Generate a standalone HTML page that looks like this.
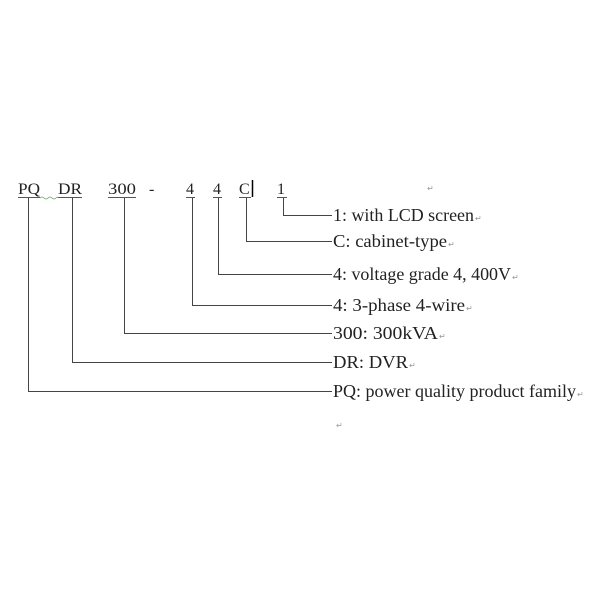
<!DOCTYPE html>
<html><head><style>
body{margin:0;width:600px;height:600px;background:#fff;overflow:hidden}
svg text{font-family:"Liberation Serif",serif;fill:#222}
</style></head><body>
<svg width="600" height="600" viewBox="0 0 600 600">
<g font-size="16">
<text x="18" y="194" textLength="22" lengthAdjust="spacingAndGlyphs">PQ</text>
<text x="58" y="194" textLength="24" lengthAdjust="spacingAndGlyphs">DR</text>
<text x="108" y="194" textLength="28" lengthAdjust="spacingAndGlyphs">300</text>
<text x="149" y="194">-</text>
<text x="186" y="194">4</text>
<text x="213" y="194">4</text>
<text x="239" y="194">C</text>
<text x="277" y="194">1</text>
</g>
<g stroke="#555" stroke-width="1">
<line x1="18" y1="197.5" x2="40" y2="197.5"/>
<line x1="58" y1="197.5" x2="82" y2="197.5"/>
<line x1="108" y1="197.5" x2="136" y2="197.5"/>
<line x1="186" y1="197.5" x2="195" y2="197.5"/>
<line x1="213" y1="197.5" x2="222" y2="197.5"/>
<line x1="239" y1="197.5" x2="251" y2="197.5"/>
<line x1="277" y1="197.5" x2="287" y2="197.5"/>
</g>
<path d="M40 198 q2 -2 4 0 t4 0 t4 0 t4 0 t2 0" stroke="#6a6" fill="none" stroke-width="0.8"/>
<line x1="252.5" y1="180" x2="252.5" y2="197" stroke="#000" stroke-width="1.5"/>
<g stroke="#444" stroke-width="1" fill="none">
<path d="M283.5 198 V215.5 H332"/>
<path d="M246.5 198 V241.5 H332"/>
<path d="M218.5 198 V274.5 H332"/>
<path d="M192.5 198 V305.5 H332"/>
<path d="M124.5 198 V333.5 H332"/>
<path d="M72.5 198 V362.5 H332"/>
<path d="M28.5 198 V391.5 H332"/>
</g>
<g font-size="17.5">
<text x="333" y="221" textLength="141" lengthAdjust="spacingAndGlyphs">1: with LCD screen</text>
<text x="333" y="247" textLength="114" lengthAdjust="spacingAndGlyphs">C: cabinet-type</text>
<text x="333" y="280" textLength="178" lengthAdjust="spacingAndGlyphs">4: voltage grade 4, 400V</text>
<text x="333" y="311" textLength="132" lengthAdjust="spacingAndGlyphs">4: 3-phase 4-wire</text>
<text x="333" y="339" textLength="105" lengthAdjust="spacingAndGlyphs">300: 300kVA</text>
<text x="333" y="368" textLength="75" lengthAdjust="spacingAndGlyphs">DR: DVR</text>
<text x="333" y="397" textLength="243" lengthAdjust="spacingAndGlyphs">PQ: power quality product family</text>
</g>
<g font-size="8">
<text x="427" y="191" style="fill:#999">↵</text>
<text x="475" y="221" style="fill:#999">↵</text>
<text x="448" y="247" style="fill:#999">↵</text>
<text x="512" y="280" style="fill:#999">↵</text>
<text x="466" y="311" style="fill:#999">↵</text>
<text x="439" y="339" style="fill:#999">↵</text>
<text x="409" y="368" style="fill:#999">↵</text>
<text x="577" y="397" style="fill:#999">↵</text>
<text x="336" y="428" style="fill:#999">↵</text>
</g>
</svg>
</body></html>
